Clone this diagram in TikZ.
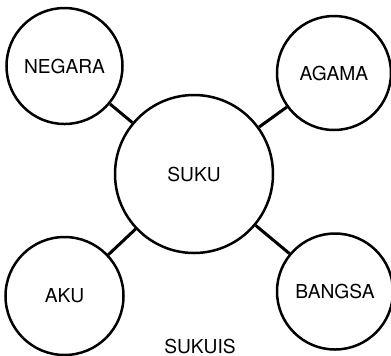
\documentclass[tikz,border=0pt]{standalone}
\usepackage{fontspec}
\setmainfont{TeX Gyre Heros}
\tikzset{
  bubble/.style={circle,draw,line width=1.25pt,inner sep=0pt,font=\fontsize{9.6}{11}\selectfont},
  link/.style={line width=1.5pt}
}
\begin{document}
\begin{tikzpicture}[x=0.5pt,y=-0.5pt]
  \useasboundingbox (0,0) rectangle (391,355);
  \node[bubble,minimum size=79pt] (suku) at (194,174) {SUKU};
  \node[bubble,minimum size=58pt] (negara) at (64.5,66) {NEGARA};
  \node[bubble,minimum size=57pt] (agama) at (334,73) {AGAMA};
  \node[bubble,minimum size=59pt] (aku) at (64.5,296) {AKU};
  \node[bubble,minimum size=58pt] (bangsa) at (335,291.5) {BANGSA};
  \draw[link] (suku) -- (negara);
  \draw[link] (suku) -- (agama);
  \draw[link] (suku) -- (aku);
  \draw[link] (suku) -- (bangsa);
  \node[font=\fontsize{9.6}{11}\selectfont,inner sep=0pt] (label) at (200,346) {SUKUIS};
\end{tikzpicture}
\end{document}
